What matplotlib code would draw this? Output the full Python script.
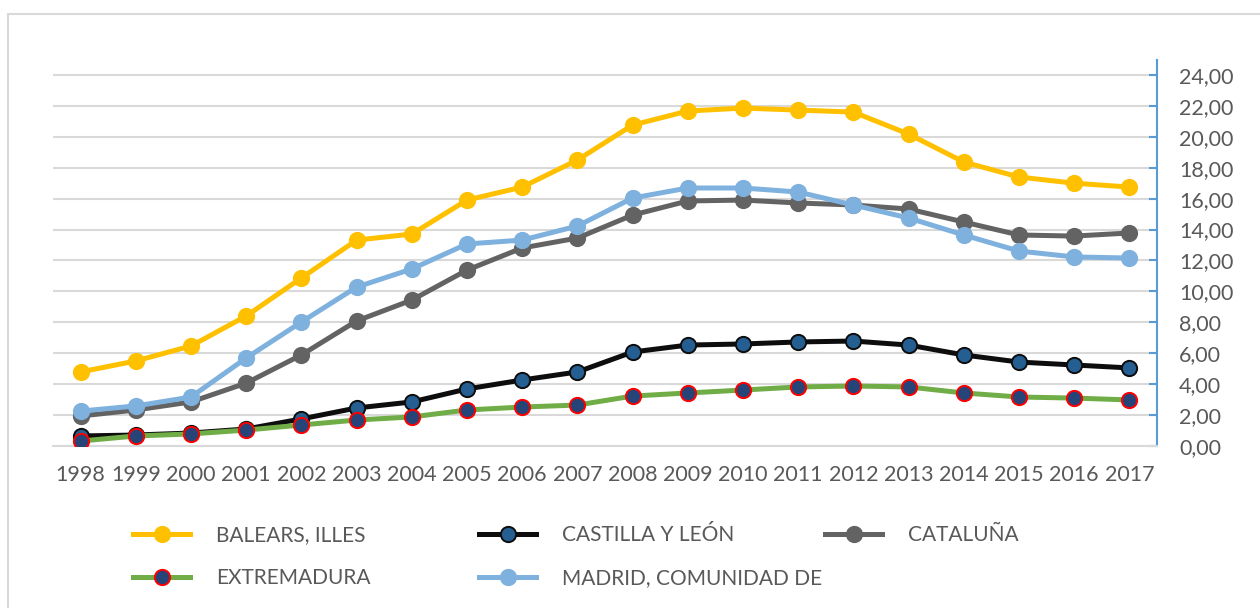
import matplotlib
matplotlib.use('Agg')
import matplotlib.pyplot as plt
from matplotlib.lines import Line2D
from matplotlib.patches import Rectangle

plt.rcParams['font.family'] = ['Lato', 'DejaVu Sans']

years = [str(y) for y in range(1998, 2018)]

balears = [4.79, 5.50, 6.47, 8.41, 10.87, 13.32, 13.71, 15.91, 16.75, 18.50,
           20.76, 21.67, 21.86, 21.73, 21.60, 20.18, 18.37, 17.40, 17.00, 16.75]
castilla = [0.65, 0.71, 0.84, 1.10, 1.75, 2.46, 2.85, 3.69, 4.27, 4.79,
            6.08, 6.53, 6.60, 6.73, 6.79, 6.53, 5.89, 5.43, 5.24, 5.05]
cataluna = [1.94, 2.33, 2.85, 4.07, 5.89, 8.09, 9.44, 11.38, 12.81, 13.45,
            14.94, 15.85, 15.91, 15.72, 15.59, 15.33, 14.49, 13.65, 13.58, 13.78]
extremadura = [0.32, 0.65, 0.78, 1.03, 1.36, 1.68, 1.88, 2.33, 2.52, 2.65,
               3.23, 3.43, 3.62, 3.82, 3.88, 3.82, 3.43, 3.17, 3.10, 2.98]
madrid = [2.26, 2.59, 3.17, 5.69, 8.02, 10.28, 11.45, 13.07, 13.32, 14.23,
          16.04, 16.69, 16.69, 16.43, 15.59, 14.75, 13.65, 12.61, 12.23, 12.16]

yticks = [0, 2, 4, 6, 8, 10, 12, 14, 16, 18, 20, 22, 24]

txt = '#595959'

fig = plt.figure(figsize=(12.6, 6.08), dpi=100)
fig.patches.append(Rectangle((8/1260, -0.2), 1.5, 1.2 - 14/608,
                             transform=fig.transFigure, fill=False,
                             edgecolor='#D9D9D9', linewidth=1.5))
ax = fig.add_axes([53/1260, 1 - 446/608, 1104/1260, 386/608])

x = list(range(len(years)))
series = [
    ('BALEARS, ILLES', balears, dict(color='#FFC000', mfc='#FFC000', mec='#FFC000')),
    ('CASTILLA Y LEÓN', castilla, dict(color='#0D0D0D', mfc='#255E91', mec='#0D0D0D')),
    ('CATALUÑA', cataluna, dict(color='#636363', mfc='#636363', mec='#636363')),
    ('EXTREMADURA', extremadura, dict(color='#70AD47', mfc='#264478', mec='#FF0000')),
    ('MADRID, COMUNIDAD DE', madrid, dict(color='#7FB1DE', mfc='#7FB1DE', mec='#7FB1DE')),
]
handles = []
for name, vals, st in series:
    ax.plot(x, vals, lw=3.6, marker='o', ms=11, mew=1.4,
            solid_capstyle='round', zorder=3, **st)
    handles.append((name, st))

ax.set_xlim(-0.5, len(years) - 0.5)
ax.set_ylim(0, 24.97)
ax.set_xticks(x)
ax.set_xticklabels(years)
ax.set_yticks(yticks)
ax.set_yticklabels([f'{v:.2f}'.replace('.', ',') for v in yticks])
ax.yaxis.tick_right()
ax.grid(axis='y', color='#D9D9D9', lw=1.5, zorder=0)
for s in ['top', 'left']:
    ax.spines[s].set_visible(False)
ax.spines['right'].set_color('#5B9BD5')
ax.spines['right'].set_linewidth(1.5)
ax.spines['bottom'].set_color('#D9D9D9')
ax.spines['bottom'].set_linewidth(1.5)
ax.tick_params(axis='y', direction='in', length=6, width=1.5, color='#5B9BD5',
               pad=16, labelsize=15.5, labelcolor=txt)
ax.tick_params(axis='x', length=0, pad=14, labelsize=15.5, labelcolor=txt)

# legend laid out like the original, two rows of three slots
slots = [(133, 535), (479, 535), (825, 535), (133, 578), (479, 578)]
for (name, st), (px, py) in zip(handles, slots):
    h = Line2D([], [], lw=3.6, marker='o', ms=11, mew=1.4, **st)
    fig.legend(handles=[h], labels=[name], loc='center left',
               bbox_to_anchor=(px/1260, 1 - py/608), frameon=False,
               borderpad=0, borderaxespad=0, handlelength=2.75,
               handletextpad=1.25, fontsize=15, labelcolor=txt)

fig.savefig('out.png', dpi=100)
